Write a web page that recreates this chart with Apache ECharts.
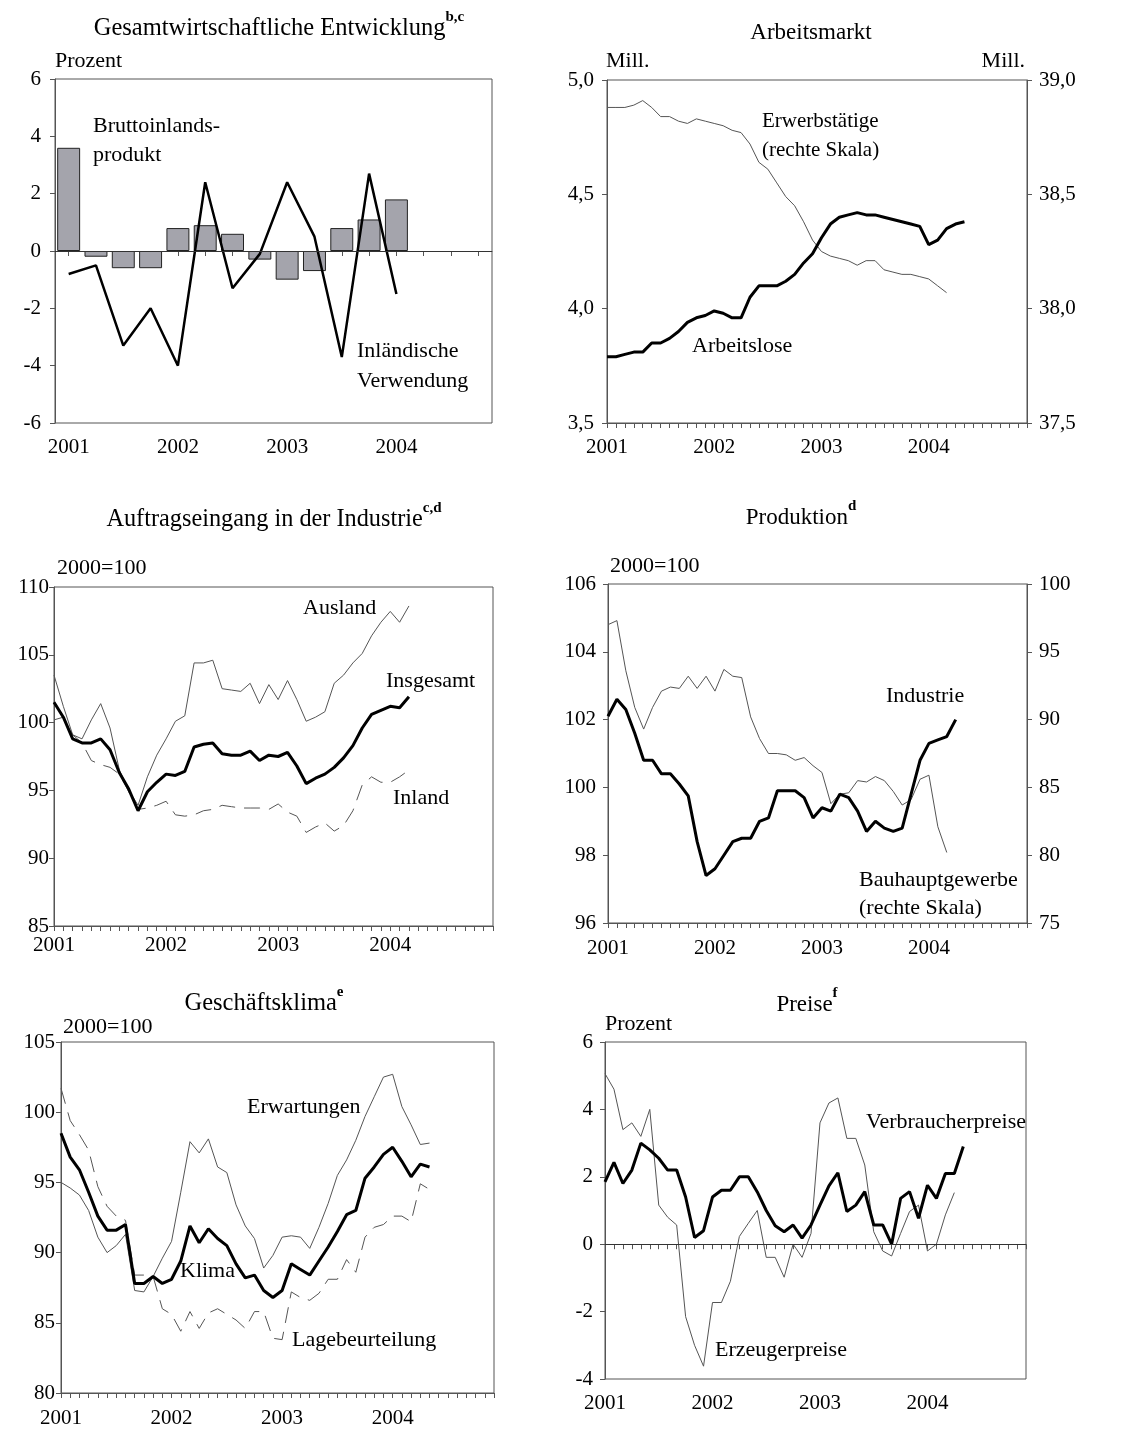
<!DOCTYPE html>
<html lang="de">
<head>
<meta charset="UTF-8">
<title>Konjunkturindikatoren</title>
<script src="https://cdn.jsdelivr.net/npm/echarts@6/dist/echarts.min.js"></script>
<style>
  html, body { margin: 0; padding: 0; background: #fff; }
  #main { width: 1147px; height: 1432px; }
</style>
</head>
<body>
<div id="main"></div>
<script>
// Kategorien
var years = ['2001', '2002', '2003', '2004'];
var quarters = [];
var months = [];
years.forEach(function (y) {
    for (var q = 1; q <= 4; q++) quarters.push(y + ' Q' + q);
    for (var m = 1; m <= 12; m++) months.push(y + '-' + (m < 10 ? '0' + m : m));
});

// Gesamtwirtschaftliche Entwicklung (Quartale, Prozent)
var bip = [3.6, -0.2, -0.6, -0.6, 0.8, 0.9, 0.6, -0.3, -1.0, -0.7, 0.8, 1.1, 1.8];
var inlVerwendung = [-0.8, -0.5, -3.3, -2.0, -4.0, 2.4, -1.3, -0.1, 2.4, 0.5, -3.7, 2.7, -1.5];

// Arbeitsmarkt (Monate, Mill.)
var arbeitslose = [3.79, 3.79, 3.80, 3.81, 3.81, 3.85, 3.85, 3.87, 3.90, 3.94, 3.96, 3.97,
    3.99, 3.98, 3.96, 3.96, 4.05, 4.10, 4.10, 4.10, 4.12, 4.15, 4.20, 4.24,
    4.31, 4.37, 4.40, 4.41, 4.42, 4.41, 4.41, 4.40, 4.39, 4.38, 4.37, 4.36,
    4.28, 4.30, 4.35, 4.37, 4.38];
var erwerbstaetige = [38.88, 38.88, 38.88, 38.89, 38.91, 38.88, 38.84, 38.84, 38.82, 38.81, 38.83, 38.82,
    38.81, 38.80, 38.78, 38.77, 38.72, 38.64, 38.61, 38.55, 38.49, 38.45, 38.38, 38.30,
    38.25, 38.23, 38.22, 38.21, 38.19, 38.21, 38.21, 38.17, 38.16, 38.15, 38.15, 38.14,
    38.13, 38.10, 38.07];

// Auftragseingang (2000=100)
var insgesamt = [101.5, 100.4, 98.8, 98.5, 98.5, 98.8, 98.0, 96.3, 95.1, 93.5, 94.9, 95.6,
    96.2, 96.1, 96.4, 98.2, 98.4, 98.5, 97.7, 97.6, 97.6, 97.9, 97.2, 97.6,
    97.5, 97.8, 96.8, 95.5, 95.9, 96.2, 96.7, 97.4, 98.3, 99.6, 100.6, 100.9,
    101.2, 101.1, 101.9];
var ausland = [103.5, 101.2, 99.1, 98.8, 100.2, 101.4, 99.6, 96.5, 95.0, 93.9, 96.0, 97.6,
    98.8, 100.1, 100.5, 104.4, 104.4, 104.6, 102.5, 102.4, 102.3, 102.9, 101.4, 102.8,
    101.7, 103.1, 101.7, 100.1, 100.4, 100.8, 102.9, 103.5, 104.4, 105.1, 106.4, 107.4,
    108.2, 107.4, 108.6];
var inland = [100.2, 100.4, 99.1, 98.5, 97.2, 96.9, 96.7, 96.2, 94.9, 93.6, 93.7, 93.9,
    94.2, 93.2, 93.1, 93.2, 93.5, 93.6, 93.9, 93.8, 93.7, 93.7, 93.7, 93.6,
    94.0, 93.4, 93.1, 91.9, 92.3, 92.6, 92.0, 92.4, 93.5, 95.4, 96.0, 95.6,
    95.6, 96.0, 96.5];

// Produktion
var industrie = [102.1, 102.6, 102.3, 101.6, 100.8, 100.8, 100.4, 100.4, 100.1, 99.75, 98.4, 97.4,
    97.6, 98.0, 98.4, 98.5, 98.5, 99.0, 99.1, 99.9, 99.9, 99.9, 99.7, 99.1,
    99.4, 99.3, 99.8, 99.7, 99.3, 98.7, 99.0, 98.8, 98.7, 98.8, 99.8, 100.8,
    101.3, 101.4, 101.5, 102.0];
var bauhaupt = [97.0, 97.3, 93.6, 90.9, 89.3, 90.9, 92.1, 92.4, 92.3, 93.2, 92.3, 93.2,
    92.1, 93.7, 93.2, 93.1, 90.2, 88.6, 87.5, 87.5, 87.4, 87.0, 87.2, 86.6,
    86.1, 83.8, 84.5, 84.6, 85.5, 85.4, 85.8, 85.5, 84.7, 83.7, 84.1, 85.6,
    85.9, 82.1, 80.2];

// Geschäftsklima
var klima = [98.5, 96.8, 95.9, 94.3, 92.6, 91.6, 91.6, 92.0, 87.8, 87.8, 88.3, 87.8,
    88.1, 89.4, 91.9, 90.7, 91.7, 91.0, 90.5, 89.2, 88.2, 88.4, 87.3, 86.8,
    87.3, 89.2, 88.8, 88.4, 89.4, 90.4, 91.5, 92.7, 93.0, 95.3, 96.1, 97.0,
    97.5, 96.5, 95.4, 96.3, 96.1];
var erwartungen = [95.0, 94.6, 94.1, 93.0, 91.1, 90.0, 90.5, 91.3, 87.3, 87.2, 88.3, 89.6,
    90.8, 94.3, 97.9, 97.1, 98.1, 96.1, 95.7, 93.4, 91.9, 91.0, 88.9, 89.8,
    91.1, 91.2, 91.1, 90.3, 91.8, 93.5, 95.5, 96.6, 98.0, 99.7, 101.1, 102.5,
    102.7, 100.4, 99.1, 97.7, 97.8];
var lage = [101.7, 99.4, 98.4, 97.3, 94.7, 93.3, 92.6, 92.3, 88.4, 88.4, 88.3, 86.0,
    85.6, 84.4, 85.8, 84.6, 85.7, 86.0, 85.6, 85.2, 84.6, 85.8, 85.8, 83.9,
    83.8, 87.2, 86.8, 86.6, 87.1, 88.1, 88.1, 89.5, 88.6, 91.1, 91.8, 92.0,
    92.6, 92.6, 92.2, 94.9, 94.5];

// Preise (Prozent)
var verbraucher = [1.85, 2.43, 1.8, 2.2, 3.0, 2.8, 2.55, 2.2, 2.2, 1.4, 0.2, 0.4,
    1.4, 1.6, 1.6, 2.0, 2.0, 1.55, 1.0, 0.55, 0.37, 0.57, 0.18, 0.57,
    1.16, 1.73, 2.12, 0.97, 1.16, 1.56, 0.57, 0.57, 0.0, 1.36, 1.56, 0.77,
    1.75, 1.36, 2.1, 2.1, 2.9];
var erzeuger = [5.06, 4.6, 3.4, 3.6, 3.2, 4.0, 1.16, 0.8, 0.57, -2.15, -3.0, -3.62,
    -1.73, -1.73, -1.1, 0.23, 0.62, 1.0, -0.39, -0.39, -0.98, 0.0, -0.39, 0.32,
    3.6, 4.19, 4.34, 3.14, 3.14, 2.35, 0.37, -0.2, -0.35, 0.32, 0.97, 1.16,
    -0.2, 0.0, 0.87, 1.53];

var FONT = '"Liberation Serif", "Times New Roman", serif';
var AXIS_COLOR = '#555';

var myChart = echarts.init(document.getElementById('main'));

var grids = [
    {left: 55, top: 79, width: 437, height: 344},
    {left: 607, top: 80, width: 420, height: 343},
    {left: 54, top: 587, width: 439, height: 339},
    {left: 608, top: 584, width: 419, height: 339},
    {left: 61, top: 1042, width: 433, height: 351},
    {left: 605, top: 1042, width: 421, height: 337}
].map(function (g) {
    g.show = true;
    g.borderColor = AXIS_COLOR;
    g.borderWidth = 1;
    g.containLabel = false;
    g.outerBoundsMode = 'none';
    return g;
});

function xAxis(gi, data, gap, margin) {
    return {
        type: 'category', gridIndex: gi, data: data, boundaryGap: gap,
        axisLine: {show: true, lineStyle: {color: AXIS_COLOR}},
        axisTick: {show: true, interval: 0, length: 5, alignWithLabel: true, lineStyle: {color: AXIS_COLOR}},
        axisLabel: {
            interval: 0, margin: margin, color: '#000', fontFamily: FONT, fontSize: 21,
            formatter: function (v) {
                if (v.indexOf('Q') > 0) return v.slice(-1) === '1' ? v.slice(0, 4) : '';
                return v.slice(5) === '01' ? v.slice(0, 4) : '';
            }
        },
        splitLine: {show: false}
    };
}

function yAxis(gi, min, max, step, pos, margin, fmt) {
    return {
        type: 'value', gridIndex: gi, min: min, max: max, interval: step, position: pos,
        axisLine: {show: true, lineStyle: {color: AXIS_COLOR}},
        axisTick: {show: true, length: 5, lineStyle: {color: AXIS_COLOR}},
        axisLabel: {margin: margin, color: '#000', fontFamily: FONT, fontSize: 21, formatter: fmt},
        splitLine: {show: false}
    };
}

var comma = function (v) { return v.toFixed(1).replace('.', ','); };

function line(xi, yi, data, width, color, dash) {
    return {
        type: 'line', xAxisIndex: xi, yAxisIndex: yi, data: data,
        symbol: 'none', smooth: false, silent: true,
        lineStyle: {width: width, color: color, type: dash || 'solid'}
    };
}

var zeroLine = {
    silent: true, symbol: 'none', label: {show: false},
    lineStyle: {color: '#333', width: 1, type: 'solid'},
    data: [{yAxis: 0}]
};

function txt(x, y, text, size, align) {
    return {
        type: 'text', x: x, y: y, silent: true,
        style: {text: text, fill: '#000', font: size + 'px ' + FONT, align: align || 'left', verticalAlign: 'middle'}
    };
}

function title(x, y, main, sup, size) {
    return {
        type: 'text', x: x, y: y, silent: true,
        style: {
            text: '{m|' + main + '}' + (sup ? '{s|' + sup + '}' : ''),
            align: 'center', verticalAlign: 'middle',
            rich: {
                m: {fontSize: size || 23, fontFamily: FONT, fill: '#000', lineHeight: 38, verticalAlign: 'middle'},
                s: {fontSize: 15, fontFamily: FONT, fill: '#000', fontWeight: 'bold', lineHeight: 16, verticalAlign: 'top'}
            }
        }
    };
}

var option = {
    backgroundColor: '#fff',
    animation: false,
    grid: grids,
    xAxis: [
        xAxis(0, quarters, true, 14),
        xAxis(1, months, false, 14),
        xAxis(2, months, false, 9),
        xAxis(3, months, false, 15),
        xAxis(4, months, false, 15),
        xAxis(5, months, false, 14)
    ],
    yAxis: [
        yAxis(0, -6, 6, 2, 'left', 14),
        yAxis(1, 3.5, 5.0, 0.5, 'left', 13, comma),
        yAxis(1, 37.5, 39.0, 0.5, 'right', 12, comma),
        yAxis(2, 85, 110, 5, 'left', 5),
        yAxis(3, 96, 106, 2, 'left', 12),
        yAxis(3, 75, 100, 5, 'right', 12),
        yAxis(4, 80, 105, 5, 'left', 6),
        yAxis(5, -4, 6, 2, 'left', 12)
    ],
    series: [
        {
            type: 'bar', xAxisIndex: 0, yAxisIndex: 0, data: bip, barWidth: '84%', silent: true,
            itemStyle: {color: '#a4a4ac', borderColor: '#222', borderWidth: 1},
            markLine: zeroLine
        },
        line(0, 0, inlVerwendung, 2.5, '#000'),

        line(1, 2, erwerbstaetige, 1, '#555'),
        line(1, 1, arbeitslose, 3, '#000'),

        line(2, 3, ausland, 1, '#555'),
        line(2, 3, inland, 1, '#555', [16, 9]),
        line(2, 3, insgesamt, 3, '#000'),

        line(3, 5, bauhaupt, 1, '#555'),
        line(3, 4, industrie, 3, '#000'),

        line(4, 6, erwartungen, 1, '#555'),
        line(4, 6, lage, 1, '#555', [16, 9]),
        line(4, 6, klima, 3, '#000'),

        Object.assign(line(5, 7, erzeuger, 1, '#555'), {markLine: zeroLine}),
        line(5, 7, verbraucher, 3, '#000')
    ],
    graphic: [
        title(279, 29, 'Gesamtwirtschaftliche Entwicklung', 'b,c', 24.5),
        txt(55, 61, 'Prozent', 22),
        txt(93, 126, 'Bruttoinlands-', 22),
        txt(93, 155, 'produkt', 22),
        txt(357, 351, 'Inländische', 22),
        txt(357, 381, 'Verwendung', 22),

        title(811, 33, 'Arbeitsmarkt'),
        txt(606, 61, 'Mill.', 22),
        txt(1025, 61, 'Mill.', 22, 'right'),
        txt(762, 121, 'Erwerbstätige', 21),
        txt(762, 150, '(rechte Skala)', 21),
        txt(692, 346, 'Arbeitslose', 22),

        title(274, 520, 'Auftragseingang in der Industrie', 'c,d', 24.3),
        txt(57, 568, '2000=100', 22),
        txt(303, 608, 'Ausland', 22),
        txt(386, 681, 'Insgesamt', 22),
        txt(393, 798, 'Inland', 22),

        title(801, 518, 'Produktion', 'd'),
        txt(610, 566, '2000=100', 22),
        txt(886, 696, 'Industrie', 22),
        txt(859, 880, 'Bauhauptgewerbe', 22),
        txt(859, 908, '(rechte Skala)', 22),

        title(264, 1004, 'Geschäftsklima', 'e', 24.5),
        txt(63, 1027, '2000=100', 22),
        txt(247, 1107, 'Erwartungen', 22),
        txt(180, 1271, 'Klima', 22),
        txt(292, 1340, 'Lagebeurteilung', 22),

        title(807, 1005, 'Preise', 'f'),
        txt(605, 1024, 'Prozent', 22),
        txt(866, 1122, 'Verbraucherpreise', 22),
        txt(715, 1350, 'Erzeugerpreise', 22)
    ]
};
myChart.setOption(option);
</script>
</body>
</html>
